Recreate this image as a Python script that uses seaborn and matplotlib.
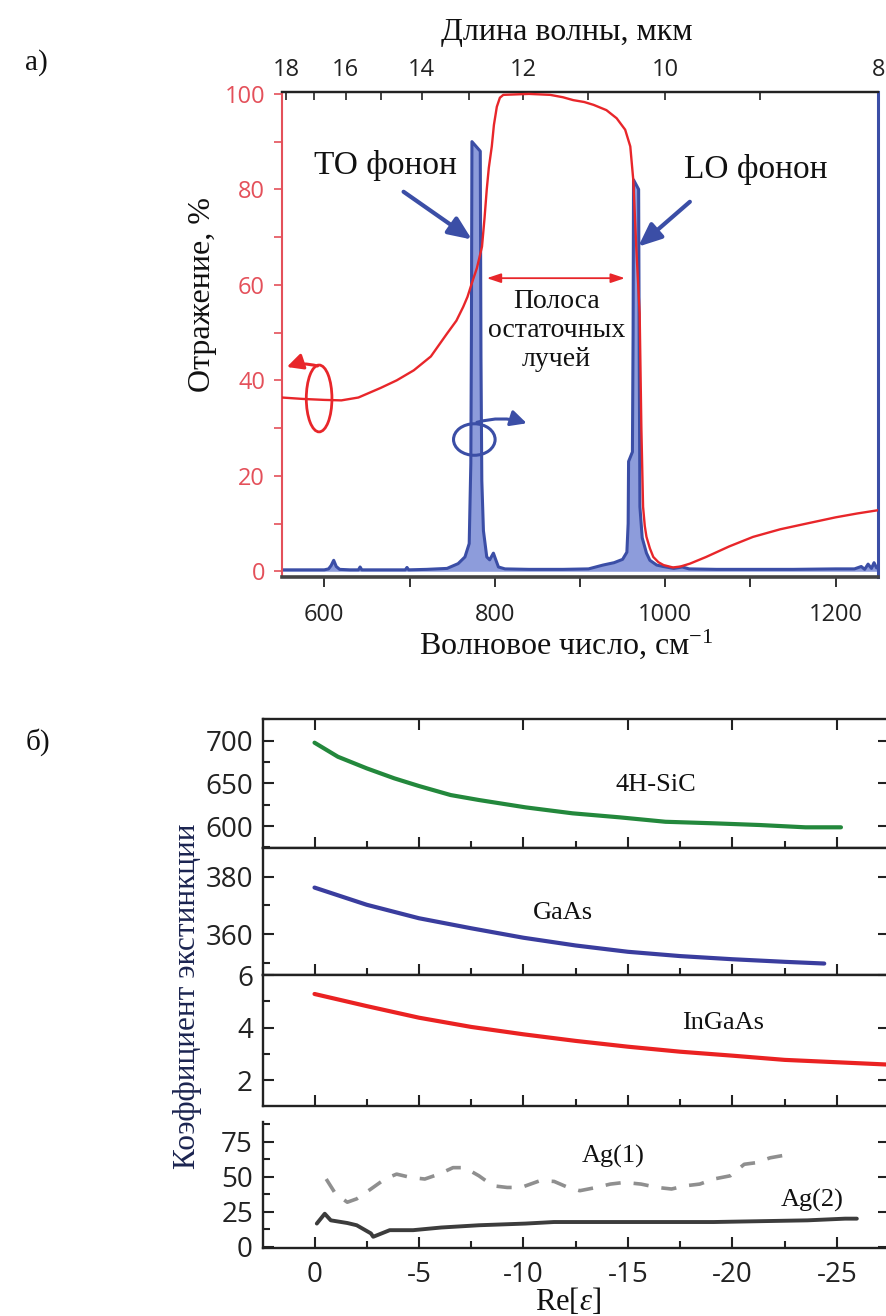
import numpy as np
import matplotlib
matplotlib.use("Agg")
import matplotlib.pyplot as plt
from matplotlib.patches import Ellipse
from matplotlib.ticker import MultipleLocator, FixedLocator
import seaborn as sns

# ---------- (а) SiC: reflectance and absorption spectra ----------
wavenumber_refl = [550, 575, 600, 620, 640, 666, 685, 705, 725, 744, 755, 763, 768, 773, 779,
                   785, 788, 790.6, 793, 796.5, 799, 802.4, 806, 810, 840, 865, 880, 892, 905, 916,
                   931, 943, 953, 959, 962.5, 966, 968, 970, 972, 974, 976, 978, 982, 986, 992,
                   998, 1009, 1018, 1029, 1048, 1075, 1103, 1135, 1166, 1200, 1225, 1250]
reflectance = [36.4, 36.1, 35.9, 35.8, 36.4, 38.4, 40.0, 42.1, 45.0, 49.8, 52.5, 55.4, 57.5, 60.3, 63.5,
               68.0, 74.0, 80.0, 84.5, 89.0, 93.5, 97.3, 99.2, 99.8, 100.0, 99.8, 99.3, 98.7, 98.3, 97.7,
               96.6, 94.9, 92.5, 89.0, 82.0, 68.0, 61.0, 54.0, 30.0, 13.5, 9.5, 7.2, 4.8, 3.0, 1.9,
               1.3, 0.8, 1.0, 1.6, 3.0, 5.2, 7.2, 8.8, 10.0, 11.3, 12.1, 12.8]

wavenumber_abs = [550, 575, 600, 605, 608, 611, 614, 618, 630, 640, 642, 644, 660, 695, 697,
                  699, 720, 744, 757, 765, 770, 771.1, 771.9, 772.6, 773.2, 783.0, 783.8, 784.8, 786.7, 790.6,
                  794, 798.4, 801, 804.3, 812, 840, 880, 910, 927, 940, 950, 955, 956.5, 957, 961.5,
                  962.3, 962.8, 968.8, 969.5, 970.3, 973, 978, 982, 990, 997.6, 1010, 1020, 1028, 1060, 1100,
                  1150, 1200, 1222, 1230, 1234, 1238, 1242, 1245, 1248, 1250]
absorption = [0.3, 0.3, 0.3, 0.5, 1.2, 2.3, 1.0, 0.4, 0.3, 0.3, 0.9, 0.3, 0.3, 0.3, 0.8,
              0.3, 0.4, 0.6, 1.6, 3.0, 5.8, 15.6, 22.6, 50.0, 90.0, 88.0, 45.0, 19.0, 8.5, 3.0,
              2.4, 3.8, 2.5, 0.9, 0.5, 0.4, 0.4, 0.5, 1.3, 1.8, 2.5, 4.0, 10.0, 23.0, 25.0,
              50.0, 82.0, 80.0, 45.0, 13.5, 7.0, 3.8, 2.3, 1.3, 1.0, 0.6, 0.9, 0.5, 0.4, 0.4,
              0.4, 0.5, 0.5, 1.0, 0.4, 1.5, 0.6, 1.8, 0.7, 1.2]

wn_ticks = [600, 800, 1000, 1200]
refl_ticks = [0, 20, 40, 60, 80, 100]
wl_ticks = [18, 16, 14, 12, 10, 8]
wl_minor_ticks = [17, 15, 13, 11, 9]

# ---------- (б) extinction coefficient versus Re[eps] ----------
eps_sic = [0, -1.12, -2.5, -3.82, -5, -6.52, -7.87, -10.1, -12.35, -14.6, -16.8, -19.1, -21.3, -23.5, -25.2]
ext_sic = [697.7, 681.2, 667.6, 655.9, 646.9, 636.3, 630.5, 621.9, 614.9, 610.2, 605.0, 603.2, 601.2, 598.5, 598.5]

eps_gaas = [0, -2.5, -5, -7.5, -10, -12.5, -15, -17.5, -20, -22.5, -24.4]
ext_gaas = [376.2, 370.2, 365.5, 362.0, 358.7, 356.0, 353.8, 352.3, 351.2, 350.3, 349.7]

eps_ingaas = [0, -2.5, -5, -7.5, -10, -12.5, -15, -17.5, -20, -22.5, -25, -27.5]
ext_ingaas = [5.28, 4.82, 4.38, 4.03, 3.75, 3.50, 3.28, 3.09, 2.94, 2.78, 2.69, 2.60]

eps_ag1 = [-0.56, -1.01, -1.57, -2.02, -2.70, -3.37, -3.93, -4.61, -5.28, -5.96, -6.63, -7.19,
           -7.87, -8.54, -9.22, -9.89, -10.79, -11.47, -12.14, -12.70, -13.49, -14.16, -14.84,
           -15.63, -16.41, -17.09, -17.76, -18.44, -19.11, -19.90, -20.57, -21.13, -21.81, -22.71]
ext_ag1 = [48.3, 37.7, 31.8, 34.2, 41.2, 48.3, 51.8, 49.4, 48.3, 51.8, 56.4, 56.4,
           50.6, 43.5, 42.3, 42.3, 47.1, 46.6, 42.3, 40.0, 42.3, 44.7, 45.9,
           44.7, 42.3, 41.2, 43.5, 44.7, 48.3, 50.6, 58.8, 59.9, 63.4, 65.8]

eps_ag2 = [-0.11, -0.49, -0.78, -1.57, -2.02, -2.70, -2.81, -3.6, -4.72, -6.07, -7.87,
           -10.1, -11.46, -14.6, -19.1, -23.6, -25.4, -25.96]
ext_ag2 = [16.6, 23.6, 18.9, 17.0, 15.4, 9.6, 7.2, 11.9, 11.9, 13.8, 15.4,
           16.6, 17.7, 17.7, 17.7, 18.9, 20.1, 20.1]

eps_ticks = [0, -5, -10, -15, -20, -25]
eps_tick_labels = ["0", "-5", "-10", "-15", "-20", "-25"]

# ---------- style ----------
sns.set_theme(style="ticks")
SERIF = "Liberation Serif"
SANS = "Open Sans"
plt.rcParams.update({
    "font.family": [SANS, "DejaVu Sans"],
    "mathtext.fontset": "custom",
    "mathtext.rm": SERIF,
    "mathtext.it": SERIF + ":italic",
    "mathtext.bf": SERIF + ":bold",
    "axes.unicode_minus": False,
    "axes.facecolor": "white",
    "figure.facecolor": "white",
})

RED = "#e8262a"
RED_AXIS = "#e4505a"
BLUE = "#3b4ea6"
PEAK_FILL = "#8d9cdb"
GREEN = "#23883c"
GAAS_BLUE = "#3a3d9e"
INGAAS_RED = "#ea2222"
AG1 = "#8f8f8f"
AG2 = "#3c3c3c"
INK = "#1b2450"

W, H = 887, 1316
fig = plt.figure(figsize=(W / 100, H / 100), dpi=100)


def rect(l, t, r, b):
    return [l / W, 1 - b / H, (r - l) / W, (b - t) / H]


def fx(x):
    return x / W


def fy(y):
    return 1 - y / H


def wn_to_um(x):
    x = np.asarray(x, dtype=float)
    safe = np.where(x == 0, np.nan, x)
    return 1e4 / safe


# ================= panel (а) =================
ax = fig.add_axes(rect(281.7, 92, 878.3, 577))
ax.fill_between(wavenumber_abs, 0, absorption, color=PEAK_FILL, lw=0, zorder=1)
sns.lineplot(x=wavenumber_abs, y=absorption, ax=ax, color=BLUE, linewidth=2.2,
             estimator=None, sort=False, zorder=2)
sns.lineplot(x=wavenumber_refl, y=reflectance, ax=ax, color=RED, linewidth=1.7,
             estimator=None, sort=False, zorder=3)
ax.set_xlim(550, 1250)
ax.set_ylim(-1.2, 100.4)

ax.spines["left"].set_color(RED_AXIS)
ax.spines["left"].set_linewidth(1.5)
ax.spines["right"].set_color(BLUE)
ax.spines["right"].set_linewidth(2.2)
ax.spines["top"].set_color("#222222")
ax.spines["top"].set_linewidth(1.6)
ax.spines["bottom"].set_color("#444444")
ax.spines["bottom"].set_linewidth(2.6)

ax.set_xticks(wn_ticks)
ax.xaxis.set_minor_locator(MultipleLocator(100))
ax.tick_params(axis="x", which="both", direction="out", length=7, width=1.4,
               color="#333333", labelcolor="#222222", labelsize=17, pad=12, top=False)
ax.set_yticks(refl_ticks)
ax.yaxis.set_minor_locator(MultipleLocator(10))
ax.tick_params(axis="y", which="both", direction="out", length=6, width=1.2,
               color=RED_AXIS, labelcolor=RED_AXIS, labelsize=17, pad=6, right=False)

sec = ax.secondary_xaxis("top", functions=(wn_to_um, wn_to_um))
sec.set_xticks(wl_ticks)
sec.xaxis.set_minor_locator(FixedLocator(wl_minor_ticks))
sec.tick_params(axis="x", which="both", direction="in", length=6, width=1.3,
                color="#333333", labelcolor="#222222", labelsize=17, pad=7)
sec.spines["top"].set_linewidth(1.6)
sec.spines["top"].set_color("#222222")

fig.text(fx(566.7), fy(40), "Длина волны, мкм", ha="center", va="baseline",
         family=SERIF, size=23, color="#111111")
fig.text(fx(203), fy(295), "Отражение, %", rotation=90, ha="center", va="center",
         family=SERIF, size=23, color="#111111")
fig.text(fx(566.5), fy(654), "Волновое число, см$^{-1}$", ha="center", va="baseline",
         family=SERIF, size=23, color="#111111")

# phonon annotations
ax.text(671.5, 85.1, "TO фонон", ha="center", va="center", family=SERIF, size=24, color="#111111")
ax.text(1106, 84.1, "LO фонон", ha="center", va="center", family=SERIF, size=24, color="#111111")
blue_arrow = dict(arrowstyle="-|>,head_length=0.7,head_width=0.3", color=BLUE, lw=3,
                  mutation_scale=20, shrinkA=0, shrinkB=0)
ax.annotate("", xy=(773.1, 69.5), xytext=(693, 79.5), arrowprops=blue_arrow, zorder=5)
ax.annotate("", xy=(968.3, 68), xytext=(1028.9, 77.4), arrowprops=blue_arrow, zorder=5)

# reststrahlen band
ax.annotate("", xy=(952.7, 61.4), xytext=(790.6, 61.4),
            arrowprops=dict(arrowstyle="<|-|>,head_length=0.6,head_width=0.2", color=RED, lw=1.3,
                            mutation_scale=14, shrinkA=0, shrinkB=0), zorder=5)
ax.text(872.7, 50.5, "Полоса\nостаточных\nлучей", ha="center", va="center",
        family=SERIF, size=20, linespacing=1.2, color="#111111")

# axis markers
ax.add_patch(Ellipse((593.9, 36.2), 30.1, 14, fill=False, ec=RED, lw=2, zorder=5))
ax.annotate("", xy=(556, 42.8), xytext=(592, 43.0),
            arrowprops=dict(arrowstyle="-|>,head_length=0.6,head_width=0.3", color=RED, lw=2.2,
                            mutation_scale=16, shrinkA=0, shrinkB=0,
                            connectionstyle="arc3,rad=0.15"), zorder=5)
ax.add_patch(Ellipse((776, 27.6), 48.8, 6.6, fill=False, ec=BLUE, lw=2.2, zorder=5))
ax.annotate("", xy=(837.5, 31.0), xytext=(779, 31.2),
            arrowprops=dict(arrowstyle="-|>,head_length=0.6,head_width=0.3", color=BLUE, lw=2.2,
                            mutation_scale=16, shrinkA=0, shrinkB=0,
                            connectionstyle="arc3,rad=-0.15"), zorder=5)

fig.text(fx(36), fy(63), "а)", ha="center", va="center", family=SERIF, size=21, color="#111111")

# ================= panel (б) =================
ax1 = fig.add_axes(rect(262.7, 719.3, 889, 848.3))
ax2 = fig.add_axes(rect(262.7, 848.3, 889, 975))
ax3 = fig.add_axes(rect(262.7, 975, 889, 1106))
ax4 = fig.add_axes(rect(262.7, 1121.7, 889, 1248.3))

sns.lineplot(x=eps_sic, y=ext_sic, ax=ax1, color=GREEN, linewidth=3, estimator=None, sort=False)
sns.lineplot(x=eps_gaas, y=ext_gaas, ax=ax2, color=GAAS_BLUE, linewidth=3, estimator=None, sort=False)
sns.lineplot(x=eps_ingaas, y=ext_ingaas, ax=ax3, color=INGAAS_RED, linewidth=3, estimator=None, sort=False)
sns.lineplot(x=eps_ag1, y=ext_ag1, ax=ax4, color=AG1, linewidth=2.6, estimator=None, sort=False)
ax4.lines[-1].set_dashes([4.2, 3.6])
sns.lineplot(x=eps_ag2, y=ext_ag2, ax=ax4, color=AG2, linewidth=2.8, estimator=None, sort=False)

ax1.set_ylim(573.9, 725.1)
ax1.set_yticks([600, 650, 700])
ax1.yaxis.set_minor_locator(MultipleLocator(25))
ax2.set_ylim(345.7, 389.9)
ax2.set_yticks([360, 380])
ax2.yaxis.set_minor_locator(MultipleLocator(10))
ax3.set_ylim(1.03, 6.0)
ax3.set_yticks([2, 4, 6])
ax3.yaxis.set_minor_locator(MultipleLocator(1))
ax4.set_ylim(-1.0, 89.1)
ax4.set_yticks([0, 25, 50, 75])
ax4.yaxis.set_minor_locator(MultipleLocator(12.5))

for i, a in enumerate([ax1, ax2, ax3, ax4]):
    a.set_xlim(2.48, -27.5)
    a.set_xticks(eps_ticks)
    a.xaxis.set_minor_locator(MultipleLocator(2.5))
    for s in a.spines.values():
        s.set_color("#222222")
        s.set_linewidth(1.7)
    a.tick_params(axis="both", which="both", direction="in", width=1.5, color="#222222",
                  labelcolor="#222222", labelsize=20)
    a.tick_params(axis="both", which="major", length=8)
    a.tick_params(axis="both", which="minor", length=5)
    a.tick_params(axis="y", left=True, right=True, labelright=False, pad=7)
    a.tick_params(axis="x", bottom=True, top=(i == 0), labeltop=False,
                  labelbottom=(i == 3), pad=9)
    a.set_xlabel("")
    a.set_ylabel("")
ax4.spines["top"].set_visible(False)
ax4.set_xticks(eps_ticks, labels=eps_tick_labels)

ax1.text(-16.35, 648, "4H-SiC", ha="center", va="center", family=SERIF, size=19, color="#111111")
ax2.text(-11.91, 367.2, "GaAs", ha="center", va="center", family=SERIF, size=19, color="#111111")
ax3.text(-19.56, 4.17, "InGaAs", ha="center", va="center", family=SERIF, size=19, color="#111111")
ax4.text(-14.28, 64.6, "Ag(1)", ha="center", va="center", family=SERIF, size=19, color="#111111")
ax4.text(-23.83, 33.0, "Ag(2)", ha="center", va="center", family=SERIF, size=19, color="#111111")

fig.text(fx(188), fy(996), "Коэффициент экстинкции", rotation=90, ha="center", va="center",
         family=SERIF, size=22.5, color=INK)
fig.text(fx(568), fy(1301), "Re[$\\varepsilon$]", ha="center", va="center",
         family=SERIF, size=22, color="#111111")
fig.text(fx(38), fy(742), "б)", ha="center", va="center", family=SERIF, size=21, color="#111111")

fig.savefig("out.png", dpi=100)
